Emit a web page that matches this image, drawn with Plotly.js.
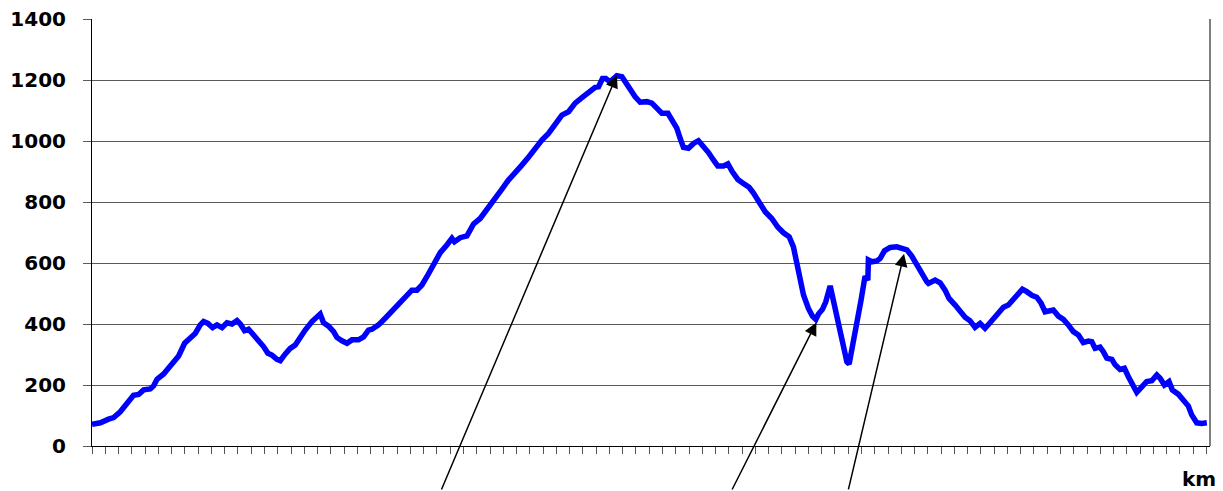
<!DOCTYPE html>
<html>
<head>
<meta charset="utf-8">
<script src="https://cdn.plot.ly/plotly-3.0.1.min.js"></script>
<style>
  html, body { margin: 0; padding: 0; background: #fff; }
  #chart { width: 1223px; height: 491px; }
</style>
</head>
<body>
<div id="chart"></div>
<script>
// Distance along the route (km) and elevation (m)
const distanceKm = [0,0.63,1.25,1.63,2.13,2.64,3.13,3.51,3.89,4.39,4.64,4.90,5.40,5.90,6.53,6.98,7.54,7.78,8.16,8.41,8.74,9.09,9.42,9.80,10.17,10.55,10.93,11.18,11.50,11.80,12.18,12.55,12.93,13.26,13.56,13.94,14.19,14.57,14.94,15.32,15.70,16.07,16.58,17.08,17.20,17.45,17.83,18.21,18.46,18.84,19.22,19.59,20.09,20.47,20.84,
  21.10,21.60,22.10,22.73,23.23,23.74,24.11,24.49,24.87,25.24,25.74,26.25,26.75,27.13,27.32,27.75,28.26,28.76,29.26,29.77,30.26,30.90,31.39,31.90,32.40,32.90,33.41,33.91,34.41,34.91,35.42,35.92,36.42,36.93,37.42,37.93,38.18,38.48,38.73,39.06,39.56,39.94,40.19,40.57,40.94,41.32,41.82,
  42.20,42.58,42.95,43.41,43.71,44.08,44.33,44.58,44.96,45.34,45.71,46.09,46.47,46.84,47.17,47.60,47.93,48.27,48.68,49.10,49.53,49.86,50.36,50.74,51.24,51.70,52.12,52.55,52.87,53.13,53.38,53.63,54.00,54.30,54.56,54.76,55.06,55.31,55.64,55.89,56.26,56.64,56.90,57.07,57.32,57.65,57.97,58.27,58.48,58.52,58.78,59.16,59.41,59.73,60.16,60.66,61.04,61.42,61.79,62.17,62.49,62.92,
  63.05,63.55,63.93,64.30,64.60,65.06,65.43,65.81,66.18,66.56,66.94,67.31,67.69,68.07,68.32,68.70,69.07,69.45,69.83,70.13,70.46,70.84,71.21,71.54,71.84,72.21,72.46,72.84,73.22,73.59,73.97,74.35,74.72,75.10,75.36,75.61,75.98,76.23,76.49,76.87,77.12,77.49,77.82,78.12,78.49,78.75,79.13,79.50,79.88,80.26,80.51,80.83,81.18,81.43,81.88,82.26,82.64,82.89,83.27,83.65,84.03];

const elevationM = [71,76,88,93,112,138,166,169,184,187,197,219,236,262,295,337,356,369,397,408,402,388,397,388,404,400,411,400,378,383,364,348,326,304,298,284,280,302,320,331,358,380,408,430,433,404,393,375,356,345,337,348,348,358,380,
  383,397,419,446,470,495,511,511,528,555,593,634,659,681,670,683,689,728,746,774,804,842,872,894,921,947,976,1003,1025,1052,1085,1096,1124,1142,1158,1176,1178,1205,1205,1194,1214,1211,1194,1165,1145,1127,1129,
  1124,1104,1091,1091,1071,1042,1009,979,976,992,1001,984,962,938,918,918,925,899,874,861,848,829,798,768,746,717,699,686,653,599,544,495,451,426,415,433,448,473,525,473,402,326,276,269,326,391,479,557,544,610,604,607,615,640,651,653,648,643,623,599,571,539,
  533,544,535,511,484,462,440,422,411,389,402,386,404,426,435,455,462,479,498,514,506,494,488,468,440,443,446,426,415,397,375,364,339,344,342,320,324,309,288,284,266,251,255,227,194,176,194,211,214,233,222,200,211,184,170,151,131,102,76,74,76];

// Y axis ticks
const yTickVals = [0,200,400,600,800,1000,1200,1400];
const yTickText = ['0','200','400','600','800','1000','1200','1400'];

// Arrow targets (km, m) and tail offsets
const arrowKm = [39.56, 54.60, 61.21];
const arrowM = [1216, 405, 630];
const arrowTailDx = [-176, -85, -56];
const arrowTailDy = [416, 169, 237];

const xAxisLabel = 'km';

const annotations = arrowKm.map((k, i) => ({
  x: k, y: arrowM[i], xref: 'x', yref: 'y',
  ax: arrowTailDx[i], ay: arrowTailDy[i], axref: 'pixel', ayref: 'pixel',
  text: '', showarrow: true, arrowhead: 2, arrowsize: 1.7, arrowwidth: 1.5,
  arrowcolor: '#000000'
}));
annotations.push({
  x: 0.990, y: -0.077, xref: 'paper', yref: 'paper',
  xanchor: 'center', yanchor: 'middle', showarrow: false,
  text: '<b>' + xAxisLabel + '</b>',
  font: { family: 'DejaVu Sans', size: 20, color: '#000000' }
});

const trace = {
  x: distanceKm, y: elevationM, type: 'scatter', mode: 'lines',
  line: { color: '#0000FF', width: 5.5 }, hoverinfo: 'skip'
};

const layout = {
  width: 1223, height: 491,
  margin: { l: 92, r: 13, t: 19, b: 45, pad: 0 },
  paper_bgcolor: '#ffffff', plot_bgcolor: '#ffffff',
  showlegend: false,
  xaxis: {
    range: [0, 84.27], tick0: 0, dtick: 1, ticks: 'outside', ticklen: 7,
    tickcolor: '#555555', tickwidth: 1, showticklabels: false,
    showgrid: false, zeroline: false, showline: true, linecolor: '#000000', linewidth: 1,
    fixedrange: true
  },
  yaxis: {
    range: [0, 1400], tickvals: yTickVals, ticktext: yTickText,
    ticks: 'outside', ticklen: 8, tickcolor: '#5a5a5a', tickwidth: 1,
    ticklabelstandoff: 13,
    tickfont: { family: 'DejaVu Sans', size: 20, weight: 'bold', color: '#000000' },
    showgrid: true, gridcolor: '#5a5a5a', gridwidth: 1,
    zeroline: false, showline: true, linecolor: '#000000', linewidth: 1,
    fixedrange: true
  },
  shapes: [{
    type: 'line', xref: 'paper', yref: 'paper', x0: 1, x1: 1, y0: 0, y1: 1,
    line: { color: '#555555', width: 1.5 }
  }],
  annotations: annotations
};

Plotly.newPlot('chart', [trace], layout, { staticPlot: true, displayModeBar: false });
</script>
</body>
</html>
